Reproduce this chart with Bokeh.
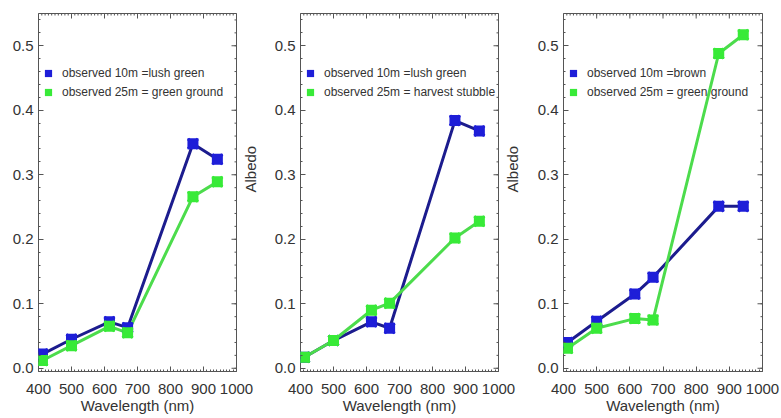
import math
from bokeh.plotting import figure
from bokeh.models import LinearAxis, FixedTicker, Range1d, Legend, LegendItem
from bokeh.layouts import row
from bokeh.embed import file_html
from bokeh.resources import INLINE

# ---- data ----
wavelength = [412, 500, 615, 670, 868, 942]

p1_10m = [0.022, 0.045, 0.072, 0.063, 0.348, 0.324]
p1_25m = [0.012, 0.035, 0.065, 0.055, 0.266, 0.289]
p2_10m = [0.017, 0.043, 0.072, 0.062, 0.384, 0.368]
p2_25m = [0.017, 0.043, 0.090, 0.101, 0.202, 0.228]
p3_10m = [0.040, 0.073, 0.115, 0.141, 0.251, 0.251]
p3_25m = [0.031, 0.062, 0.077, 0.075, 0.488, 0.517]

labels_10m = ["observed 10m =lush green", "observed 10m =lush green", "observed 10m =brown"]
labels_25m = ["observed 25m = green ground", "observed 25m = harvest stubble", "observed 25m = green ground"]

x_ticks = [400, 500, 600, 700, 800, 900, 1000]
y_ticks = [0.0, 0.1, 0.2, 0.3, 0.4, 0.5]
x_label = "Wavelength (nm)"
y_label = "Albedo"

X_MIN, X_MAX = 400, 1000
Y_MIN, Y_MAX = -0.005, 0.55

FONT = "Liberation Sans"
TXT = "#333333"
AX = "#555555"
BLUE_LINE = "#1c1c8e"
BLUE_MK = "#1e1ed8"
GREEN_LINE = "#4cdc4c"
GREEN_MK = "#38ea38"

x_minor = list(range(400, 1001, 10))
y_minor = [round(i * 0.02, 3) for i in range(0, 28)]


def style_axis(ax):
    ax.axis_line_color = None
    ax.major_tick_in = 5
    ax.major_tick_out = 0
    ax.minor_tick_in = 2
    ax.minor_tick_out = 0
    ax.major_tick_line_color = AX
    ax.minor_tick_line_color = AX
    ax.major_label_text_font = FONT
    ax.major_label_text_color = TXT
    ax.major_label_text_font_size = "15px"
    ax.axis_label_text_font = FONT
    ax.axis_label_text_color = TXT
    ax.axis_label_text_font_size = "15px"
    ax.axis_label_text_font_style = "normal"


def panel(y10, y25, lab10, lab25, width, left, right, next_label):
    p = figure(width=width, height=418, output_backend="svg", toolbar_location=None,
               x_range=Range1d(X_MIN, X_MAX), y_range=Range1d(Y_MIN, Y_MAX),
               min_border_left=left, min_border_right=right,
               min_border_top=13, min_border_bottom=47)
    p.grid.visible = False
    p.outline_line_color = AX
    p.background_fill_color = "white"
    p.border_fill_color = "white"

    bx = p.xaxis[0]
    bx.ticker = FixedTicker(ticks=x_ticks, minor_ticks=x_minor)
    style_axis(bx)
    bx.major_label_standoff = 12
    bx.axis_label = x_label
    bx.axis_label_standoff = 0

    ly = p.yaxis[0]
    ly.ticker = FixedTicker(ticks=y_ticks, minor_ticks=y_minor)
    style_axis(ly)
    ly.major_label_standoff = 5
    ly.major_label_overrides = {t: f"{t:.1f}" for t in y_ticks}

    if next_label:
        ry = LinearAxis(ticker=FixedTicker(ticks=[], minor_ticks=[]))
        style_axis(ry)
        ry.major_label_standoff = 0
        ry.axis_label = next_label
        ry.axis_label_orientation = math.pi / 2
        ry.axis_label_standoff = 14
        p.add_layout(ry, "right")

    # inward ticks along the top and right edges (clipped to the frame)
    p.scatter(x_ticks, [Y_MAX] * len(x_ticks), marker="dash", angle=math.pi / 2,
              size=10, line_color=AX, line_width=1)
    p.scatter(x_minor, [Y_MAX] * len(x_minor), marker="dash", angle=math.pi / 2,
              size=4, line_color=AX, line_width=1)
    p.scatter([X_MAX] * len(y_ticks), y_ticks, marker="dash",
              size=10, line_color=AX, line_width=1)
    p.scatter([X_MAX] * len(y_minor), y_minor, marker="dash",
              size=4, line_color=AX, line_width=1)

    p.line(wavelength, y10, line_color=BLUE_LINE, line_width=3)
    p.line(wavelength, y25, line_color=GREEN_LINE, line_width=3)

    sq10 = p.scatter(wavelength, y10, marker="square", size=11, fill_color=BLUE_MK, line_color=None)
    p.scatter(wavelength, y10, marker="x", size=14, line_color=BLUE_MK, line_width=3)
    sq25 = p.scatter(wavelength, y25, marker="square", size=11, fill_color=GREEN_MK, line_color=None)
    p.scatter(wavelength, y25, marker="x", size=14, line_color=GREEN_MK, line_width=3)

    leg = Legend(items=[LegendItem(label=lab10, renderers=[sq10]),
                        LegendItem(label=lab25, renderers=[sq25])],
                 location=(1, 270), glyph_width=18, glyph_height=18, label_height=19,
                 spacing=0, padding=0, margin=0, label_standoff=5,
                 border_line_color=None, background_fill_alpha=0,
                 label_text_font=FONT, label_text_font_size="12px", label_text_color=TXT)
    p.add_layout(leg)
    return p


f1 = panel(p1_10m, p1_25m, labels_10m[0], labels_25m[0], 270, 38, 33, y_label)
f2 = panel(p2_10m, p2_25m, labels_10m[1], labels_25m[1], 262, 30, 33, y_label)
f3 = panel(p3_10m, p3_25m, labels_10m[2], labels_25m[2], 249, 31, 19, None)

layout = row(f1, f2, f3)
open("out.html", "w").write(file_html(layout, INLINE))
